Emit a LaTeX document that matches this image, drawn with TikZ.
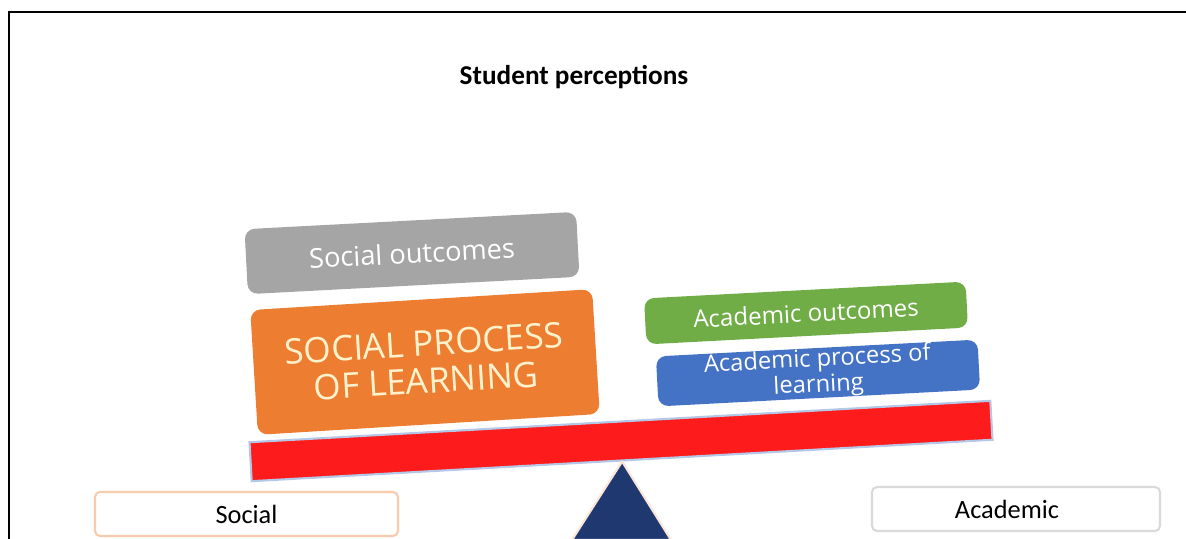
\documentclass[tikz,border=0pt]{standalone}
\usepackage{fontspec}
\setmainfont{Carlito}
\newfontfamily\blockfont{Open Sans}

\definecolor{outgray}{HTML}{A5A5A5}
\definecolor{procorange}{HTML}{ED7D31}
\definecolor{outgreen}{HTML}{70AD47}
\definecolor{procblue}{HTML}{4472C4}
\definecolor{beamred}{HTML}{FE1B1B}
\definecolor{beamedge}{HTML}{B4C7E7}
\definecolor{pivotblue}{HTML}{1F3870}
\definecolor{pivotedge}{HTML}{FBE5D6}
\definecolor{socialedge}{HTML}{F8CBAD}
\definecolor{academicedge}{HTML}{D9D9D9}
\definecolor{cream}{HTML}{FFF2CC}

\tikzset{
    block/.style = {rectangle, rounded corners = 0.2cm, inner sep = 0pt,
                    align = center, text = white, font = \blockfont},
    side/.style  = {rectangle, rounded corners = 0.1cm, fill = white,
                    line width = 1.2pt, minimum width = 5.9cm,
                    minimum height = 0.88cm, font = \fontsize{15}{18}\selectfont}
}

\begin{document}
\begin{tikzpicture}
        \useasboundingbox (0,0) rectangle (23.72,-10.76);

        % ---------------------------------------------------------------------------
        % Frame and title
        % ---------------------------------------------------------------------------
        \draw [line width = 1.7pt] (0.18,-11.0) -- (0.18,-0.24) -- (24.0,-0.24);

        \node[  font = \bfseries\fontsize{15.5}{18}\selectfont]  (Title) at (11.48,-1.54) {Student perceptions};

        % ---------------------------------------------------------------------------
        % Draw beam and pivot
        % ---------------------------------------------------------------------------
        \node[  rectangle,
                draw = beamedge,
                fill = beamred,
                line width = 1.2pt,
                inner sep = 0pt,
                rotate = 3.2,
                minimum width = 14.84cm,
                minimum height = 0.78cm]  (Beam) at (12.42,-8.82) {};

        \coordinate (PivotLeft)  at (11.44,-10.80);
        \coordinate (PivotRight) at (13.42,-10.80);
        \draw [draw = pivotedge, fill = pivotblue, line width = 1.2pt, line join = round]
                (Beam.south) -- (PivotRight) -- (PivotLeft) -- cycle;

        % ---------------------------------------------------------------------------
        % Draw blocks on the beam
        % ---------------------------------------------------------------------------
        \node[  block,
                fill = outgray,
                rotate = 3,
                minimum width = 6.64cm,
                minimum height = 1.3cm,
                font = \blockfont\fontsize{15.5}{18}\selectfont]  (SocialOutcomes) at (8.24,-5.06) {Social outcomes};

        \node[  block,
                fill = procorange,
                text = cream,
                rotate = 3.5,
                minimum width = 6.85cm,
                minimum height = 2.5cm,
                font = \blockfont\fontsize{20}{21.5}\selectfont]  (SocialProcess) at (8.5,-7.24) {SOCIAL PROCESS\\OF LEARNING};

        \node[  block,
                fill = outgreen,
                rotate = 3,
                minimum width = 6.44cm,
                minimum height = 0.92cm,
                font = \blockfont\fontsize{13.7}{16}\selectfont]  (AcademicOutcomes) at (16.12,-6.26) {Academic outcomes};

        \node[  block,
                fill = procblue,
                rotate = 3,
                minimum width = 6.44cm,
                minimum height = 1.0cm,
                font = \blockfont\fontsize{13.5}{12.5}\selectfont]  (AcademicProcess) at (16.36,-7.46) {Academic process of\\learning};

        % ---------------------------------------------------------------------------
        % Draw side labels
        % ---------------------------------------------------------------------------
        \node[  side,
                draw = socialedge,
                minimum width = 6.06cm]  (Social) at (4.93,-10.28) {Social};

        \node[  side,
                draw = academicedge,
                minimum width = 5.76cm]  (Academic) at (20.32,-10.18) {Academic\hspace*{0.36cm}};

    \end{tikzpicture}
\end{document}
